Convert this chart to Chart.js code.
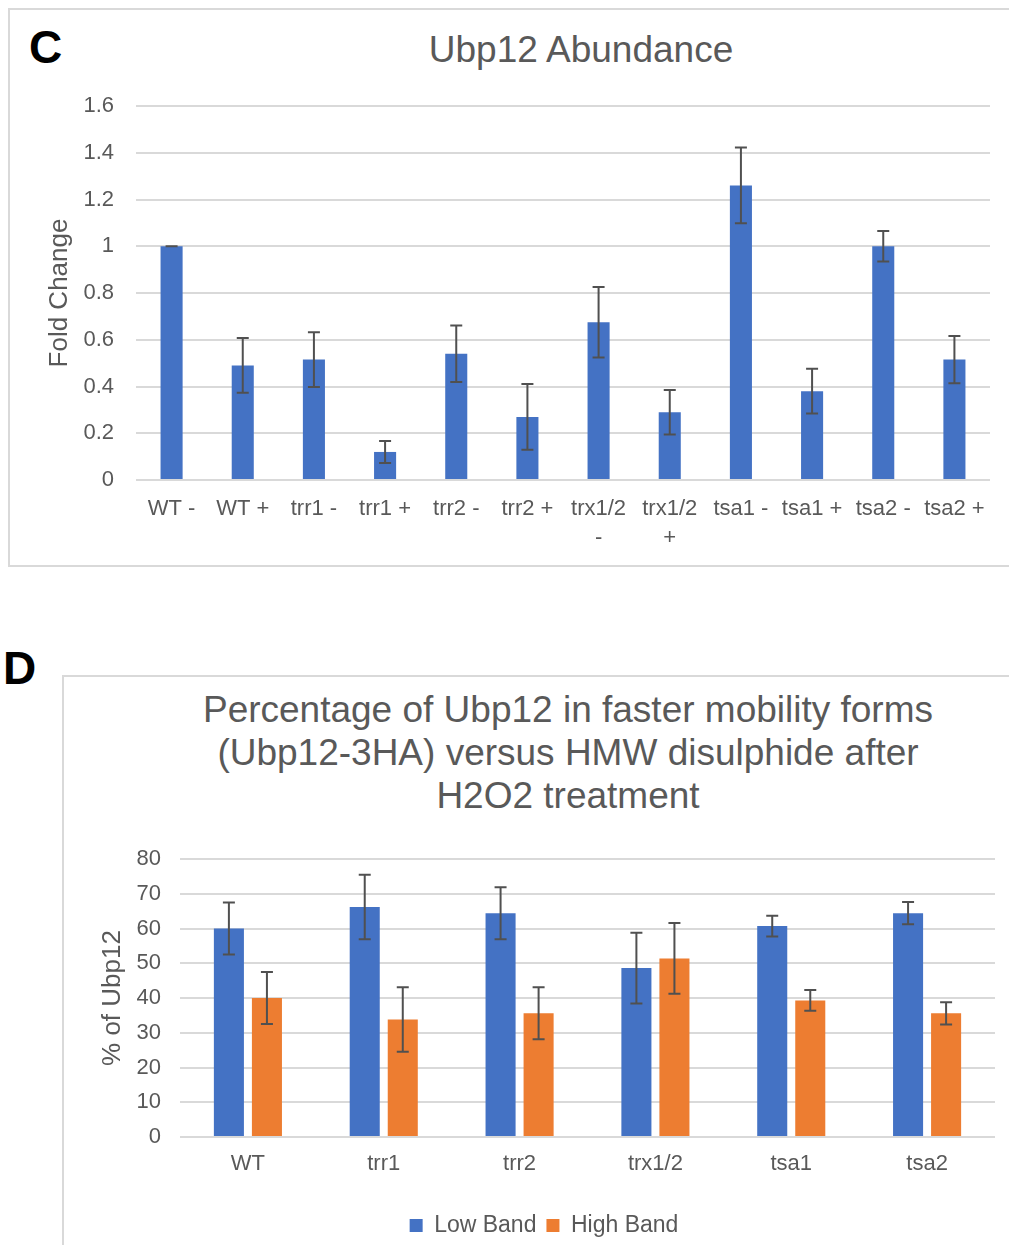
<!DOCTYPE html>
<html>
<head>
<meta charset="utf-8">
<script src="https://cdn.jsdelivr.net/npm/chart.js@4.4.1/dist/chart.umd.min.js"></script>
<style>
    body { margin: 0; background: #fff; overflow: hidden; width: 1009px; height: 1245px; position: relative; }
    .panel { position: absolute; border: 2px solid #d9d9d9; box-sizing: border-box; }
    .letter { position: absolute; font: bold 46px 'Liberation Sans', Arial, sans-serif; color: #000; line-height: 46px; }
    .title { position: absolute; font-family: 'Liberation Sans', Arial, sans-serif; color: #595959; text-align: center; white-space: nowrap; }
    .box { position: absolute; }
</style>
</head>
<body>
<div class="panel" style="left:8px; top:8px; width:1020px; height:559px;"></div>
<div class="panel" style="left:62px; top:675px; width:980px; height:600px;"></div>

<div class="letter" style="left:29px; top:24px;">C</div>
<div class="letter" style="left:3px; top:645px;">D</div>

<div class="title" style="left:331px; top:28px; width:500px; font-size:37px; line-height:43px;">Ubp12 Abundance</div>
<div class="title" style="left:168px; top:688px; width:800px; font-size:37px; line-height:43px;">Percentage of Ubp12 in faster mobility forms<br>(Ubp12-3HA) versus HMW disulphide after<br>H2O2 treatment</div>

<div class="box" style="left:0; top:0; width:1009px; height:566px;"><canvas id="chartC"></canvas></div>
<div class="box" style="left:0; top:640px; width:1009px; height:607px;"><canvas id="chartD"></canvas></div>

<script>
// --- panel C: Ubp12 abundance ---
const abundanceLabels = ['WT -', 'WT +', 'trr1 -', 'trr1 +', 'trr2 -', 'trr2 +',
    ['trx1/2', '-'], ['trx1/2', '+'], 'tsa1 -', 'tsa1 +', 'tsa2 -', 'tsa2 +'];
const foldChange = [1.0, 0.49, 0.515, 0.12, 0.54, 0.27, 0.675, 0.29, 1.26, 0.38, 1.0, 0.515];
const foldChangeErr = [0, 0.117, 0.117, 0.047, 0.121, 0.141, 0.151, 0.095, 0.162, 0.096, 0.065, 0.101];

// --- panel D: low vs high band ---
const strains = ['WT', 'trr1', 'trr2', 'trx1/2', 'tsa1', 'tsa2'];
const lowBand = [60, 66.2, 64.4, 48.6, 60.7, 64.4];
const lowBandErr = [7.5, 9.3, 7.5, 10.2, 3.0, 3.2];
const highBand = [40, 33.8, 35.6, 51.4, 39.3, 35.6];
const highBandErr = [7.5, 9.3, 7.5, 10.2, 3.0, 3.2];

const BLUE = '#4472C4';
const ORANGE = '#ED7D31';
const GRID = '#d9d9d9';

Chart.defaults.font.family = "'Liberation Sans', Arial, sans-serif";
Chart.defaults.color = '#595959';
Chart.defaults.animation = false;

// draws +/- error whiskers using the chart's own y scale
const errorBars = {
    id: 'errorBars',
    afterDatasetsDraw(chart) {
        const ctx = chart.ctx;
        const y = chart.scales.y;
        chart.data.datasets.forEach((ds, i) => {
            if (!ds.errors) return;
            chart.getDatasetMeta(i).data.forEach((bar, j) => {
                const hi = y.getPixelForValue(ds.data[j] + ds.errors[j]);
                const lo = y.getPixelForValue(ds.data[j] - ds.errors[j]);
                ctx.save();
                ctx.strokeStyle = '#505050';
                ctx.lineWidth = 2;
                ctx.beginPath();
                ctx.moveTo(bar.x, hi);
                ctx.lineTo(bar.x, lo);
                ctx.moveTo(bar.x - 6, hi);
                ctx.lineTo(bar.x + 6, hi);
                ctx.moveTo(bar.x - 6, lo);
                ctx.lineTo(bar.x + 6, lo);
                ctx.stroke();
                ctx.restore();
            });
        });
    }
};

new Chart(document.getElementById('chartC'), {
    type: 'bar',
    data: {
        labels: abundanceLabels,
        datasets: [{
            label: 'Fold Change',
            data: foldChange,
            errors: foldChangeErr,
            backgroundColor: BLUE,
            categoryPercentage: 1,
            barPercentage: 0.31
        }]
    },
    options: {
        responsive: true,
        maintainAspectRatio: false,
        layout: { padding: { left: 40, top: 106, right: 19, bottom: 10 } },
        plugins: { legend: { display: false } },
        scales: {
            x: {
                grid: { display: false },
                border: { display: false },
                ticks: { autoSkip: false, maxRotation: 0, padding: 7, font: { size: 22, lineHeight: 1.3 } },
                afterFit: s => { s.height = 76; }
            },
            y: {
                min: 0,
                max: 1.6,
                ticks: {
                    stepSize: 0.2,
                    padding: 22,
                    font: { size: 22 },
                    callback: v => String(Math.round(v * 10) / 10)
                },
                grid: { color: GRID, lineWidth: 2, drawTicks: false },
                border: { display: false },
                title: { display: true, text: 'Fold Change', font: { size: 26 } },
                afterFit: s => { s.width = 96; }
            }
        }
    },
    plugins: [errorBars]
});

new Chart(document.getElementById('chartD'), {
    type: 'bar',
    data: {
        labels: strains,
        datasets: [{
            label: 'Low Band',
            data: lowBand,
            errors: lowBandErr,
            backgroundColor: BLUE,
            categoryPercentage: 0.56,
            barPercentage: 0.79
        }, {
            label: 'High Band',
            data: highBand,
            errors: highBandErr,
            backgroundColor: ORANGE,
            categoryPercentage: 0.56,
            barPercentage: 0.79
        }]
    },
    options: {
        responsive: true,
        maintainAspectRatio: false,
        layout: { padding: { left: 93, top: 219, right: 14, bottom: 0 } },
        plugins: {
            legend: {
                position: 'bottom',
                labels: { boxWidth: 13, boxHeight: 13, padding: 10, font: { size: 23 } }
            }
        },
        scales: {
            x: {
                grid: { display: false },
                border: { display: false },
                ticks: { padding: 6, font: { size: 22 } },
                afterFit: s => { s.height = 67; }
            },
            y: {
                min: 0,
                max: 80,
                ticks: { stepSize: 10, padding: 19, font: { size: 22 } },
                grid: { color: GRID, lineWidth: 2, drawTicks: false },
                border: { display: false },
                title: { display: true, text: '% of Ubp12', font: { size: 26 } },
                afterFit: s => { s.width = 87; }
            }
        }
    },
    plugins: [errorBars]
});
</script>
</body>
</html>
